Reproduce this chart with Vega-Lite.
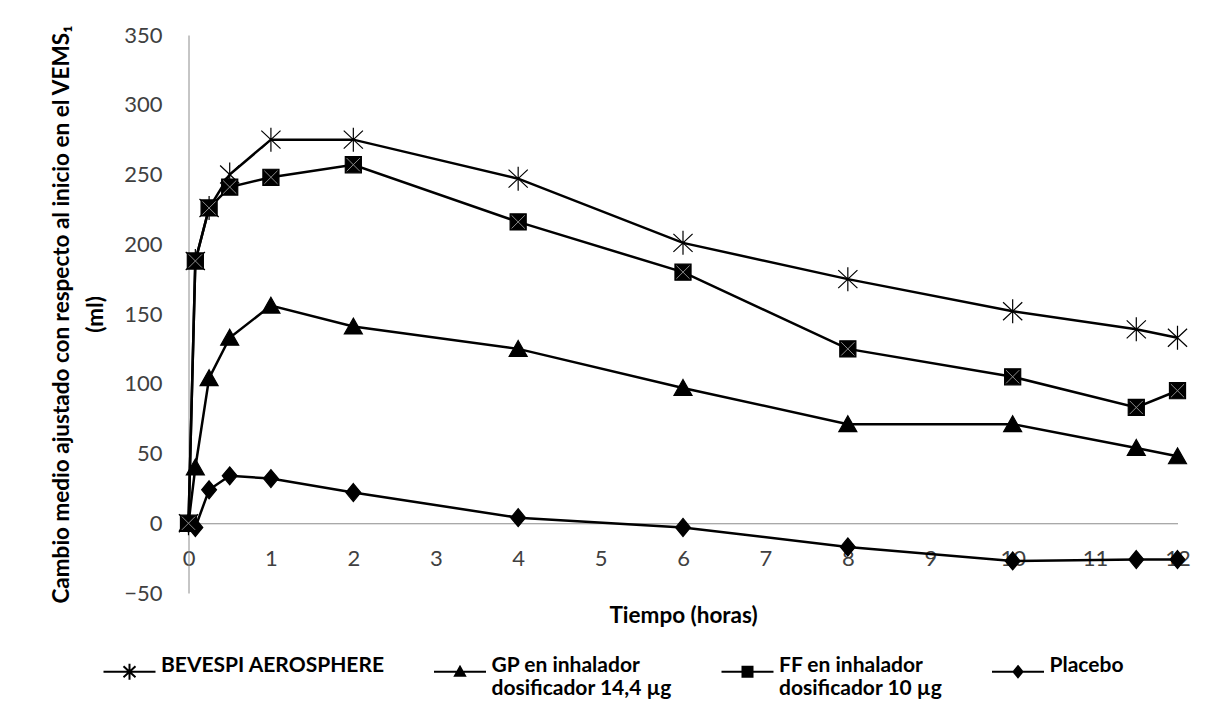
{
  "$schema": "https://vega.github.io/schema/vega-lite/v6.json",
  "width": 989,
  "height": 558,
  "autosize": {"type": "none"},
  "padding": {"left": 188.5, "top": 35, "right": 42.5, "bottom": 112},
  "background": "white",
  "config": {"view": {"stroke": null}, "font": "Lato"},
  "data": {
    "values": [
      {"series": "BEVESPI AEROSPHERE", "t": 0, "v": 0},
      {"series": "BEVESPI AEROSPHERE", "t": 0.083, "v": 188},
      {"series": "BEVESPI AEROSPHERE", "t": 0.25, "v": 226},
      {"series": "BEVESPI AEROSPHERE", "t": 0.5, "v": 250},
      {"series": "BEVESPI AEROSPHERE", "t": 1, "v": 275},
      {"series": "BEVESPI AEROSPHERE", "t": 2, "v": 275},
      {"series": "BEVESPI AEROSPHERE", "t": 4, "v": 247},
      {"series": "BEVESPI AEROSPHERE", "t": 6, "v": 201},
      {"series": "BEVESPI AEROSPHERE", "t": 8, "v": 175},
      {"series": "BEVESPI AEROSPHERE", "t": 10, "v": 152},
      {"series": "BEVESPI AEROSPHERE", "t": 11.5, "v": 139},
      {"series": "BEVESPI AEROSPHERE", "t": 12, "v": 133},
      {"series": "GP en inhalador|dosificador 14,4 µg", "t": 0, "v": 0},
      {"series": "GP en inhalador|dosificador 14,4 µg", "t": 0.083, "v": 40},
      {"series": "GP en inhalador|dosificador 14,4 µg", "t": 0.25, "v": 104},
      {"series": "GP en inhalador|dosificador 14,4 µg", "t": 0.5, "v": 133},
      {"series": "GP en inhalador|dosificador 14,4 µg", "t": 1, "v": 156},
      {"series": "GP en inhalador|dosificador 14,4 µg", "t": 2, "v": 141},
      {"series": "GP en inhalador|dosificador 14,4 µg", "t": 4, "v": 125},
      {"series": "GP en inhalador|dosificador 14,4 µg", "t": 6, "v": 97},
      {"series": "GP en inhalador|dosificador 14,4 µg", "t": 8, "v": 71},
      {"series": "GP en inhalador|dosificador 14,4 µg", "t": 10, "v": 71},
      {"series": "GP en inhalador|dosificador 14,4 µg", "t": 11.5, "v": 54},
      {"series": "GP en inhalador|dosificador 14,4 µg", "t": 12, "v": 48},
      {"series": "FF en inhalador|dosificador 10 µg", "t": 0, "v": 0},
      {"series": "FF en inhalador|dosificador 10 µg", "t": 0.083, "v": 188},
      {"series": "FF en inhalador|dosificador 10 µg", "t": 0.25, "v": 226},
      {"series": "FF en inhalador|dosificador 10 µg", "t": 0.5, "v": 241},
      {"series": "FF en inhalador|dosificador 10 µg", "t": 1, "v": 248},
      {"series": "FF en inhalador|dosificador 10 µg", "t": 2, "v": 257},
      {"series": "FF en inhalador|dosificador 10 µg", "t": 4, "v": 216},
      {"series": "FF en inhalador|dosificador 10 µg", "t": 6, "v": 180},
      {"series": "FF en inhalador|dosificador 10 µg", "t": 8, "v": 125},
      {"series": "FF en inhalador|dosificador 10 µg", "t": 10, "v": 105},
      {"series": "FF en inhalador|dosificador 10 µg", "t": 11.5, "v": 83},
      {"series": "FF en inhalador|dosificador 10 µg", "t": 12, "v": 95},
      {"series": "Placebo", "t": 0, "v": 0},
      {"series": "Placebo", "t": 0.083, "v": -3},
      {"series": "Placebo", "t": 0.25, "v": 24},
      {"series": "Placebo", "t": 0.5, "v": 34},
      {"series": "Placebo", "t": 1, "v": 32},
      {"series": "Placebo", "t": 2, "v": 22},
      {"series": "Placebo", "t": 4, "v": 4},
      {"series": "Placebo", "t": 6, "v": -3},
      {"series": "Placebo", "t": 8, "v": -17},
      {"series": "Placebo", "t": 10, "v": -27},
      {"series": "Placebo", "t": 11.5, "v": -26},
      {"series": "Placebo", "t": 12, "v": -26}
    ]
  },
  "encoding": {
    "x": {
      "field": "t",
      "type": "quantitative",
      "scale": {"domain": [0, 12], "nice": false, "zero": false},
      "axis": {
        "values": [0, 1, 2, 3, 4, 5, 6, 7, 8, 9, 10, 11, 12],
        "offset": -69.75,
        "ticks": false,
        "grid": false,
        "domainColor": "#8c8c8c",
        "domainWidth": 1,
        "labelFont": "Lato",
        "labelFontSize": 22,
        "labelColor": "#404040",
        "labelPadding": 25,
        "labelFlush": false,
        "labelOverlap": false,
        "title": "Tiempo (horas)",
        "titleFont": "Lato",
        "titleFontWeight": "bold",
        "titleFontSize": 22.5,
        "titleColor": "black",
        "titleX": 494.5,
        "titleY": 92,
        "titleAlign": "center",
        "titleBaseline": "middle"
      }
    },
    "y": {
      "field": "v",
      "type": "quantitative",
      "scale": {"domain": [-50, 350], "nice": false, "zero": false},
      "axis": {
        "values": [-50, 0, 50, 100, 150, 200, 250, 300, 350],
        "ticks": false,
        "grid": false,
        "domainColor": "#8c8c8c",
        "domainWidth": 1,
        "labelFont": "Lato",
        "labelFontSize": 22,
        "labelColor": "#404040",
        "labelPadding": 26.5,
        "labelFlush": false,
        "labelOverlap": false,
        "title": ["Cambio medio ajustado con respecto al inicio en el VEMS₁", "(ml)"],
        "titleFont": "Lato",
        "titleFontWeight": "bold",
        "titleFontSize": 22.5,
        "titleColor": "black",
        "titleAngle": -90,
        "titleX": -127,
        "titleY": 279,
        "titleAlign": "center",
        "titleBaseline": "middle",
        "titleLineHeight": 34
      }
    }
  },
  "resolve": {"scale": {"shape": "independent"}, "legend": {"shape": "independent"}},
  "layer": [
    {
      "mark": {"type": "line", "color": "black", "strokeWidth": 2.5},
      "encoding": {"detail": {"field": "series"}}
    },
    {
      "mark": {"type": "point", "filled": true, "fill": "black", "stroke": "black", "opacity": 1, "size": 576, "strokeWidth": 1.2},
      "encoding": {
        "shape": {
          "field": "series",
          "type": "nominal",
          "scale": {
            "domain": ["BEVESPI AEROSPHERE", "GP en inhalador|dosificador 14,4 µg", "FF en inhalador|dosificador 10 µg", "Placebo"],
            "range": [
              "M0,-1V1M-0.8,-0.75L0.8,0.75M-0.8,0.75L0.8,-0.75",
              "M0,-0.7L0.75,0.62L-0.75,0.62Z",
              "M-0.67,-0.67H0.67V0.67H-0.67Z",
              "M0,-0.75L0.62,0L0,0.75L-0.62,0Z"
            ]
          },
          "legend": null
        }
      }
    },
    {
      "transform": [{"filter": "datum.series === 'FF en inhalador|dosificador 10 µg'"}],
      "mark": {"type": "point", "shape": "M-0.55,-0.55L0.55,0.55M-0.55,0.55L0.55,-0.55", "filled": false, "stroke": "#8a8a8a", "strokeWidth": 1, "size": 576, "opacity": 1}
    },
    {
      "transform": [{"filter": "datum.t < -1"}],
      "mark": {"type": "point", "filled": false, "color": "black", "strokeWidth": 2, "opacity": 1},
      "encoding": {
        "shape": {
          "field": "series",
          "type": "nominal",
          "scale": {
            "domain": ["BEVESPI AEROSPHERE", "GP en inhalador|dosificador 14,4 µg", "FF en inhalador|dosificador 10 µg", "Placebo"],
            "range": [
              "M-5.2,0H5.2M0,-1.6V1.6M-1.2,-1.1L1.2,1.1M-1.2,1.1L1.2,-1.1",
              "M-5.2,0H5.2M0,-1L1,0.8L-1,0.8ZM-0.22,-0.6H0.22M-0.39,-0.3H0.39M-0.72,0.3H0.72M-0.89,0.6H0.89",
              "M-5.2,0H5.2M-1,-1H1V1H-1ZM-1,-0.7H1M-1,-0.4H1M-1,-0.1H1M-1,0.2H1M-1,0.5H1M-1,0.8H1",
              "M-5.2,0H5.2M0,-1.1L0.9,0L0,1.1L-0.9,0ZM-0.41,-0.6H0.41M-0.65,-0.3H0.65M-0.65,0.3H0.65M-0.41,0.6H0.41"
            ]
          },
          "legend": {
            "orient": "none",
            "legendX": -90.5,
            "legendY": 626,
            "direction": "horizontal",
            "title": null,
            "padding": 0,
            "symbolSize": 100,
            "symbolStrokeWidth": 2,
            "symbolOpacity": 1,
            "symbolStrokeColor": "black",
            "symbolOffset": 21,
            "labelOffset": 21,
            "columnPadding": 43.5,
            "labelFont": "Lato",
            "labelFontSize": 21,
            "labelFontWeight": "bold",
            "labelColor": "black",
            "labelLimit": 0,
            "labelBaseline": "alphabetic",
            "labelExpr": "split(datum.label + (indexof(datum.label, '|') < 0 ? '|' : ''), '|')",
            "encode": {
              "labels": {
                "dy": {"value": 11},
                "lineHeight": {"value": 23.5}
              }
            }
          }
        }
      }
    }
  ]
}
